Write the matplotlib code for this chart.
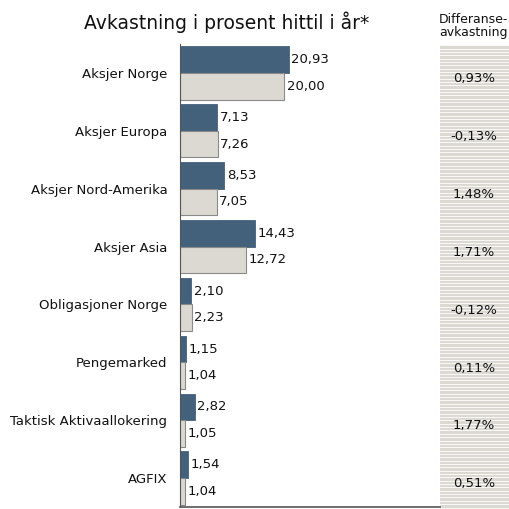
import numpy as np
import matplotlib.pyplot as plt

# data
kategorier = ['Aksjer Norge', 'Aksjer Europa', 'Aksjer Nord-Amerika', 'Aksjer Asia',
              'Obligasjoner Norge', 'Pengemarked', 'Taktisk Aktivaallokering', 'AGFIX']
portefolje = [20.93, 7.13, 8.53, 14.43, 2.10, 1.15, 2.82, 1.54]
referanse = [20.00, 7.26, 7.05, 12.72, 2.23, 1.04, 1.05, 1.04]
differanse = [0.93, -0.13, 1.48, 1.71, -0.12, 0.11, 1.77, 0.51]

def komma(v, dec=2):
    return f'{v:.{dec}f}'.replace('.', ',')

plt.rcParams['font.family'] = ['DejaVu Sans']
fig = plt.figure(figsize=(5.09, 5.09), dpi=100)

W, H = 509, 509

# stripete kolonne for differanse (bakgrunn)
ax2 = fig.add_axes([440 / W, 0, 69 / W, (509 - 45) / H])
ax2.set_zorder(1)
ax2.set_facecolor('#dcd9d2')
ax2.set_xlim(0, 1)
ax2.set_ylim(0, 464)
for yy in np.arange(1.5, 464, 3.35):
    ax2.axhline(yy, color='white', linewidth=0.6)
ax2.set_xticks([])
ax2.set_yticks([])
for s in ax2.spines.values():
    s.set_visible(False)

ax = fig.add_axes([180 / W, 2 / H, 260 / W, (507 - 44) / H])
ax.set_zorder(2)
y = np.arange(len(kategorier))
h = 0.46
ax.barh(y - h / 2, portefolje, height=h, color='#44617c', edgecolor='#44617c', linewidth=0.6)
ax.barh(y + h / 2, referanse, height=h, color='#dcd9d2', edgecolor='#8a8a8a', linewidth=0.8)
for i in range(len(kategorier)):
    ax.text(portefolje[i] + 0.5, y[i] - h / 2, komma(portefolje[i]), va='center', ha='left',
            fontsize=9.5, color='#111111')
    ax.text(referanse[i] + 0.5, y[i] + h / 2, komma(referanse[i]), va='center', ha='left',
            fontsize=9.5, color='#111111')
ax.set_xlim(0, 50)
ax.set_ylim(len(kategorier) - 0.5, -0.5)
ax.set_yticks(y)
ax.set_yticklabels(kategorier, fontsize=9.5, color='#111111')
ax.tick_params(axis='y', length=0, pad=9)
ax.set_xticks([])
for s in ['top', 'right']:
    ax.spines[s].set_visible(False)
ax.spines['left'].set_color('#555555')
ax.spines['bottom'].set_color('#555555')
ax.spines['bottom'].set_linewidth(1.2)

# differanse-tekster i samme y-system som stolpene
trans = ax.get_yaxis_transform()
for i, d in enumerate(differanse):
    ax.text(1 + 34 / 260, y[i] + 0.1, komma(d) + '%', transform=trans, ha='center', va='center',
            fontsize=9.5, color='#111111', clip_on=False, zorder=5)

fig.text(227 / W, 1 - 22 / H, 'Avkastning i prosent hittil i år*', ha='center', va='center',
         fontsize=13.5, color='#111111')
fig.text(473 / W, 1 - 26 / H, 'Differanse-\navkastning', ha='center', va='center',
         fontsize=9, color='#111111', linespacing=1.0)

fig.savefig('out.png', dpi=100)
